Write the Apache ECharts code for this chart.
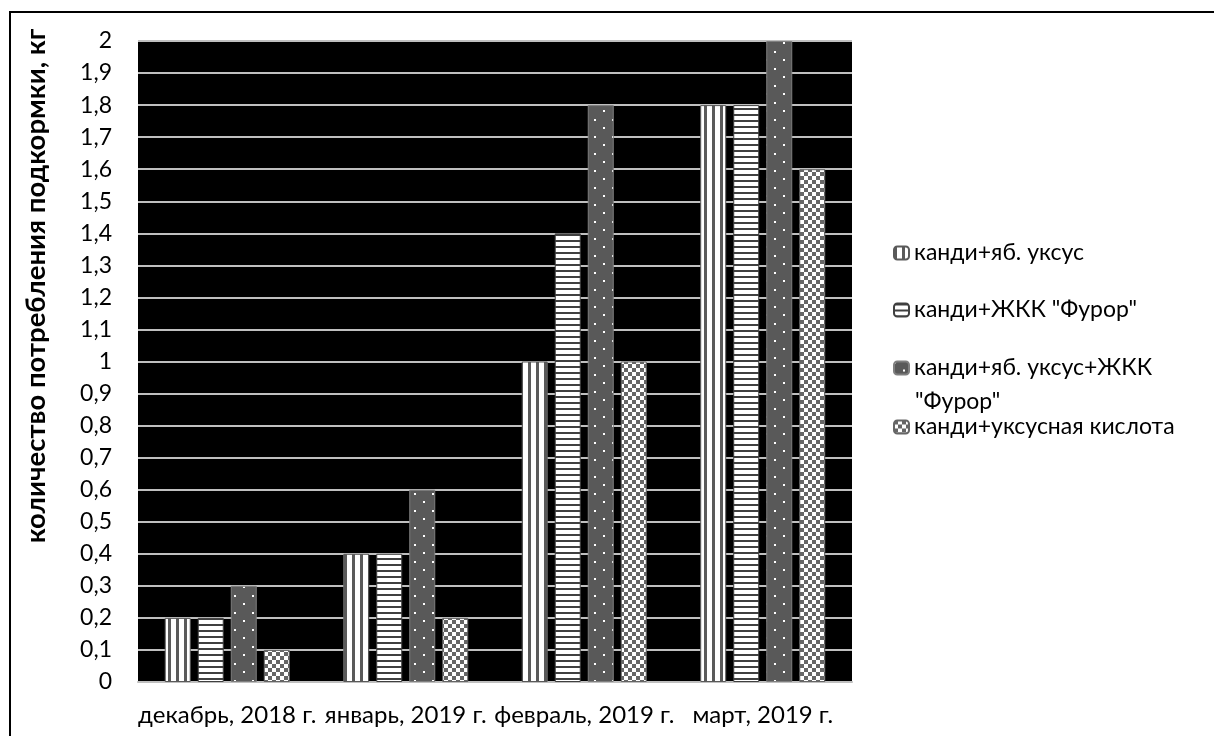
<!DOCTYPE html>
<html><head><meta charset="utf-8">
<script src="https://cdn.jsdelivr.net/npm/echarts@6/dist/echarts.min.js"></script>
<style>html,body{margin:0;padding:0;background:#fff}#c{width:1214px;height:736px}</style>
</head><body><div id="c"></div>
<script>
const categories = ['декабрь, 2018 г.', 'январь, 2019 г.', 'февраль, 2019 г.', 'март, 2019 г.'];
const seriesNames = ['канди+яб. уксус', 'канди+ЖКК "Фурор"', 'канди+яб. уксус+ЖКК "Фурор"', 'канди+уксусная кислота'];
const valsVinegar = [0.2, 0.4, 1.0, 1.8];
const valsFuror = [0.2, 0.4, 1.4, 1.8];
const valsBoth = [0.3, 0.6, 1.8, 2.0];
const valsAcetic = [0.1, 0.2, 1.0, 1.6];
const yTicks = {min: 0, max: 2, interval: 0.1};
const yTitle = 'количество потребления подкормки, кг';

function mk(w, h, draw) {
  const c = document.createElement('canvas'); c.width = w; c.height = h;
  const g = c.getContext('2d'); draw(g); return c;
}
const patV = mk(8, 8, g => { g.fillStyle = '#fff'; g.fillRect(0,0,8,8); g.fillStyle = '#5a5a5a'; g.fillRect(0,0,3,8); });
const patH = mk(6, 6, g => { g.fillStyle = '#fff'; g.fillRect(0,0,6,6); g.fillStyle = '#404040'; g.fillRect(0,0,6,2); });
const patD = mk(18, 17, g => { g.fillStyle = '#595959'; g.fillRect(0,0,18,17); g.fillStyle = '#fff'; g.fillRect(0,0,2,2); g.fillRect(9,8,2,2); });
const patC = mk(8, 8, g => { g.fillStyle = '#fff'; g.fillRect(0,0,8,8); g.fillStyle = '#666'; g.fillRect(0,0,4,4); g.fillRect(4,4,4,4); });

const FONT = 'Lato';
const chart = echarts.init(document.getElementById('c'));
const mkSeries = (name, data, pat, border) => ({
  name, type: 'bar', data, barWidth: 26, barGap: '27%',
  itemStyle: {color: {image: pat, repeat: 'repeat'}, borderColor: border, borderWidth: 1}
});
const legendBase = {orient: 'vertical', left: 893, itemWidth: 15, itemHeight: 13, itemGap: 0, padding: 0,
  textStyle: {fontFamily: FONT, fontSize: 23, lineHeight: 24, color: '#000'}, selectedMode: false};
chart.setOption({
  animation: false,
  backgroundColor: '#fff',
  grid: {left: 138, right: 362, top: 41, bottom: 54, show: true, backgroundColor: '#000', borderWidth: 0},
  xAxis: {type: 'category', data: categories,
    axisLine: {show: true, lineStyle: {color: '#bfbfbf', width: 2}},
    axisTick: {show: false},
    axisLabel: {interval: 0, margin: 21, fontFamily: FONT, fontSize: 24, color: '#000'}},
  yAxis: {type: 'value', min: yTicks.min, max: yTicks.max, interval: yTicks.interval,
    axisLine: {show: false}, axisTick: {show: false},
    splitLine: {lineStyle: {color: '#bfbfbf', width: 2}},
    axisLabel: {margin: 26, fontFamily: FONT, fontSize: 23, color: '#000',
      formatter: v => String(+v.toFixed(1)).replace('.', ',')}},
  legend: [
    Object.assign({}, legendBase, {data: [seriesNames[0]], top: 241}),
    Object.assign({}, legendBase, {data: [seriesNames[1]], top: 298}),
    Object.assign({}, legendBase, {data: [seriesNames[2]], top: 356, formatter: () => 'канди+яб. уксус+ЖКК'}),
    Object.assign({}, legendBase, {data: [seriesNames[3]], top: 415})
  ],
  graphic: [
    {type: 'rect', shape: {x: 10, y: 12, width: 1240, height: 760}, style: {fill: 'none', stroke: '#000', lineWidth: 2}, silent: true},
    {type: 'text', x: 915, y: 402, style: {text: '"Фурор"', font: '23px ' + FONT, fill: '#000', verticalAlign: 'middle'}},
    {type: 'text', x: 36, y: 286, rotation: Math.PI / 2,
      style: {text: yTitle, font: 'bold 27.5px ' + FONT, fill: '#000', align: 'center', verticalAlign: 'middle'}}
  ],
  series: [
    mkSeries(seriesNames[0], valsVinegar, patV, '#5a5a5a'),
    mkSeries(seriesNames[1], valsFuror, patH, '#404040'),
    mkSeries(seriesNames[2], valsBoth, patD, '#7f7f7f'),
    mkSeries(seriesNames[3], valsAcetic, patC, '#666')
  ]
});
</script></body></html>
